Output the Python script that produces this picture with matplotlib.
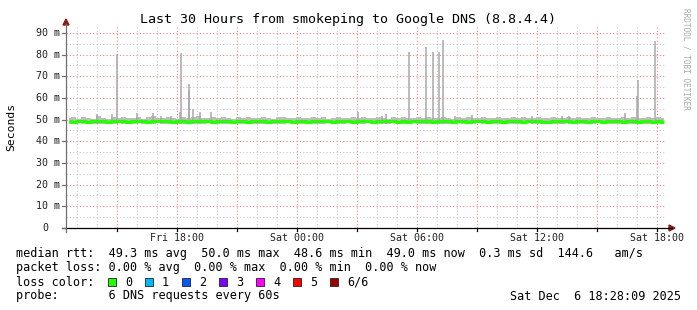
import matplotlib
matplotlib.use("Agg")
import matplotlib.pyplot as plt
from matplotlib.lines import Line2D
from matplotlib.patches import Polygon, Rectangle

# ---------------- data ----------------
title = "Last 30 Hours from smokeping to Google DNS (8.8.4.4)"
t_start = 12 + 28 / 60.0          # Fri 12:28 in hours since Fri 00:00
span_hours = 30
step_hours = 0.25                 # one sample every 15 min

median_rtt = [
    49.3, 49.1, 49.4, 49.2, 49.0, 49.3, 49.5, 49.2, 49.1, 49.4,
    49.2, 49.3, 49.0, 49.2, 49.4, 49.3, 49.1, 49.2, 49.5, 49.3,
    49.2, 49.0, 49.3, 49.4, 49.1, 49.2, 49.3, 49.5, 49.2, 49.1,
    49.3, 49.4, 49.2, 49.0, 49.2, 49.3, 49.1, 49.4, 49.3, 49.2,
    49.1, 49.3, 49.2, 49.4, 49.2, 49.0, 49.3, 49.2, 49.1, 49.3,
    49.4, 49.2, 49.3, 49.1, 49.2, 49.4, 49.3, 49.0, 49.2, 49.3,
    49.2, 49.1, 49.3, 49.4, 49.2, 49.3, 49.1, 49.2, 49.0, 49.3,
    49.2, 49.4, 49.3, 49.1, 49.2, 49.3, 49.2, 49.0, 49.3, 49.2,
    49.1, 49.3, 49.2, 49.4, 49.1, 49.2, 49.3, 49.0, 49.2, 49.4,
    49.3, 49.1, 49.2, 49.3, 49.2, 49.0, 49.1, 49.3, 49.2, 49.4,
    49.2, 49.1, 49.3, 49.2, 49.0, 49.3, 49.2, 49.1, 49.3, 49.2,
    49.4, 49.1, 49.2, 49.3, 49.0, 49.2, 49.3, 49.1, 49.2, 49.1]

smoke_hi = [
    50.6, 51.0, 50.4, 51.3, 50.8, 50.5, 51.6, 50.9, 50.4, 51.1,
    50.7, 51.4, 50.6, 50.9, 51.2, 50.5, 51.0, 51.5, 50.8, 50.6,
    51.2, 50.9, 50.5, 51.3, 50.8, 51.0, 51.6, 50.7, 50.9, 51.2,
    50.6, 51.1, 50.8, 50.5, 51.0, 50.9, 51.3, 50.7, 50.6, 51.1,
    50.8, 50.5, 51.0, 51.2, 50.7, 50.6, 51.4, 50.9, 50.6, 51.0,
    50.8, 51.1, 50.5, 50.9, 51.3, 50.7, 50.6, 51.0, 50.8, 51.2,
    50.6, 50.9, 51.1, 50.7, 50.5, 51.0, 50.8, 51.3, 50.6, 50.9,
    51.0, 50.7, 51.2, 50.8, 50.6, 51.1, 50.9, 50.5, 51.0, 50.8,
    51.3, 50.6, 50.9, 51.1, 50.7, 50.8, 51.2, 50.6, 50.9, 51.0,
    50.7, 51.3, 50.8, 50.6, 51.1, 50.9, 50.7, 51.2, 50.8, 50.6,
    51.0, 50.8, 51.4, 50.7, 50.9, 51.1, 50.6, 50.8, 51.3, 50.9,
    50.7, 51.0, 50.8, 51.2, 50.6, 50.9, 51.1, 50.7, 51.0, 50.8]

smoke_lo = [
    48.2, 48.0, 48.4, 47.9, 48.3, 48.1, 47.8, 48.2, 48.4, 48.0,
    48.3, 47.9, 48.2, 48.1, 48.4, 47.8, 48.2, 48.0, 48.3, 48.1,
    47.9, 48.3, 48.2, 48.0, 48.4, 48.1, 47.8, 48.2, 48.3, 48.0,
    48.2, 48.1, 47.9, 48.3, 48.2, 48.0, 48.4, 48.1, 48.2, 47.9,
    48.3, 48.1, 48.0, 48.2, 48.4, 47.9, 48.2, 48.1, 48.3, 48.0,
    48.2, 47.9, 48.3, 48.1, 48.0, 48.2, 48.4, 48.1, 47.9, 48.2,
    48.3, 48.0, 48.1, 48.2, 47.8, 48.3, 48.1, 48.0, 48.2, 48.4,
    48.1, 47.9, 48.2, 48.3, 48.0, 48.1, 48.2, 47.9, 48.3, 48.2,
    48.0, 48.1, 48.3, 47.9, 48.2, 48.1, 48.0, 48.4, 48.2, 48.1,
    47.9, 48.2, 48.3, 48.0, 48.1, 48.2, 48.4, 47.9, 48.1, 48.2,
    48.3, 48.0, 48.2, 48.1, 47.9, 48.2, 48.3, 48.1, 48.0, 48.2,
    48.1, 48.3, 47.9, 48.2, 48.1, 48.0, 48.2, 48.3, 48.1, 48.2]

# isolated high samples (hours since Fri 00:00, ms)
spike_times = [14.00, 14.78, 15.03, 16.03, 16.80, 17.20, 17.70, 18.15, 18.23,
               18.60, 18.63, 18.80, 19.18, 19.70, 27.08, 28.28, 28.47, 29.60,
               30.48, 30.83, 31.13, 31.33, 31.92, 32.75, 35.75, 37.28, 37.63,
               40.42, 41.03, 41.08, 41.93]
spike_vals = [52.6, 52.6, 80.3, 53.2, 53.0, 51.5, 51.5, 53.5, 80.8,
              63.0, 66.5, 54.8, 53.5, 53.5, 53.5, 51.7, 52.6, 81.2,
              83.7, 81.2, 81.2, 86.8, 51.7, 52.2, 51.7, 51.7, 51.7,
              53.0, 61.0, 68.3, 86.3]

ytick_vals = [0, 10, 20, 30, 40, 50, 60, 70, 80, 90]
ytick_labels = ["0", "10 m", "20 m", "30 m", "40 m", "50 m", "60 m", "70 m", "80 m", "90 m"]
xtick_vals = [18, 24, 30, 36, 42]
xtick_labels = ["Fri 18:00", "Sat 00:00", "Sat 06:00", "Sat 12:00", "Sat 18:00"]

loss_labels = ["0", "1", "2", "3", "4", "5", "6/6"]
loss_colors = ["#26ff00", "#00b8ff", "#0059ff", "#7e00ff", "#ff00ff", "#ff0000", "#a00000"]

line_rtt = "median rtt:  49.3 ms avg  50.0 ms max  48.6 ms min  49.0 ms now  0.3 ms sd  144.6   am/s"
line_loss = "packet loss: 0.00 % avg  0.00 % max  0.00 % min  0.00 % now"
line_probe = "probe:       6 DNS requests every 60s"
stamp = "Sat Dec  6 18:28:09 2025"

# ---------------- layout ----------------
W, H = 697, 310
MONO = "DejaVu Sans Mono"
fig = plt.figure(figsize=(W / 100, H / 100), dpi=100)
fig.patch.set_facecolor("white")

ax_l, ax_r, ax_b, ax_t = 66, 666, 228, 27
ax = fig.add_axes([ax_l / W, 1 - ax_b / H, (ax_r - ax_l) / W, (ax_b - ax_t) / H])
ymax = (ax_b - ax_t) / 2.1667
ax.set_xlim(t_start, t_start + span_hours)
ax.set_ylim(0, ymax)
ax.axis("off")

def fx(px):
    return px / W

def fy(py):
    return 1 - py / H

# grid
import math
h0 = math.ceil(t_start)
for h in range(h0, int(t_start + span_hours) + 1):
    major = (h % 3 == 0)
    ax.axvline(h, color="#ff8080" if major else "#c8c8c8", lw=0.8,
               ls=(0, (1, 2)), zorder=1)
for v in range(5, 95, 5):
    if v > ymax:
        break
    major = (v % 10 == 0)
    ax.axhline(v, color="#ff8080" if major else "#c8c8c8", lw=0.8,
               ls=(0, (1, 2)), zorder=1)

# smoke
n = len(median_rtt)
times = [t_start + (i + 0.5) * step_hours for i in range(n)]
ax.fill_between(times, smoke_lo, smoke_hi, step="mid", color="#bdbdbd", lw=0, zorder=2)
ax.vlines(spike_times, [m - 1 for m in [49.2] * len(spike_times)], spike_vals,
          color="#a8a8a8", lw=1.1, zorder=2)

# median line
ax.plot(times, median_rtt, color="#26ff00", lw=2.3, drawstyle="steps-mid",
        solid_capstyle="butt", zorder=3)

# axes lines & arrows
fig.add_artist(Line2D([fx(ax_l), fx(ax_l)], [fy(232), fy(24)], color="#707070", lw=0.9))
fig.add_artist(Line2D([fx(62), fx(672)], [fy(ax_b), fy(ax_b)], color="black", lw=0.9))
fig.add_artist(Polygon([[fx(ax_l - 3), fy(25)], [fx(ax_l + 3), fy(25)], [fx(ax_l), fy(19)]],
                       closed=True, color="#8b1a1a"))
fig.add_artist(Polygon([[fx(669), fy(ax_b - 3)], [fx(669), fy(ax_b + 3)], [fx(675), fy(ax_b)]],
                       closed=True, color="#8b1a1a"))

# y ticks and labels
for v, lab in zip(ytick_vals, ytick_labels):
    py = ax_b - v * 2.1667
    fig.add_artist(Line2D([fx(62), fx(ax_l)], [fy(py), fy(py)], color="#707070", lw=0.9))
    xr = 60 if lab != "0" else 48
    fig.text(fx(xr), fy(py), lab, ha="right", va="center", fontsize=7.2,
             family=MONO, color="#222222")

# x ticks (every 3 h) and labels
for h in range(h0, int(t_start + span_hours) + 1):
    if h % 3 == 0:
        px = ax_l + (h - t_start) * 20
        fig.add_artist(Line2D([fx(px), fx(px)], [fy(ax_b), fy(ax_b + 3)], color="black", lw=0.9))
for h, lab in zip(xtick_vals, xtick_labels):
    px = ax_l + (h - t_start) * 20
    fig.text(fx(px), fy(238), lab, ha="center", va="center", fontsize=7.2,
             family=MONO, color="#222222")

# title, y label, watermark
fig.text(fx(348), fy(19), title, ha="center", va="center", fontsize=9.6, family=MONO, color="black")
fig.text(fx(11), fy(127), "Seconds", rotation=90, ha="center", va="center",
         fontsize=8.2, family=MONO, color="black")
fig.text(fx(686), fy(59), "RRDTOOL / TOBI OETIKER", rotation=270, ha="center", va="center",
         fontsize=5.6, family=MONO, color="#aaaaaa")

# legend block
fs = 8.5
fig.text(fx(16), fy(254), line_rtt, ha="left", va="center", fontsize=fs, family=MONO)
fig.text(fx(16), fy(268), line_loss, ha="left", va="center", fontsize=fs, family=MONO)
fig.text(fx(16), fy(282), "loss color:", ha="left", va="center", fontsize=fs, family=MONO)
for k, (lab, col) in enumerate(zip(loss_labels, loss_colors)):
    sx = 108 + k * 37
    fig.add_artist(Rectangle((fx(sx), fy(286)), 8 / W, 8 / H, facecolor=col,
                             edgecolor="#222222", lw=0.6))
    fig.text(fx(sx + 17), fy(282), lab, ha="left", va="center", fontsize=fs, family=MONO)
fig.text(fx(16), fy(296), line_probe, ha="left", va="center", fontsize=fs, family=MONO)
fig.text(fx(681), fy(296), stamp, ha="right", va="center", fontsize=fs, family=MONO)

fig.savefig("out.png", dpi=100, facecolor="white")
